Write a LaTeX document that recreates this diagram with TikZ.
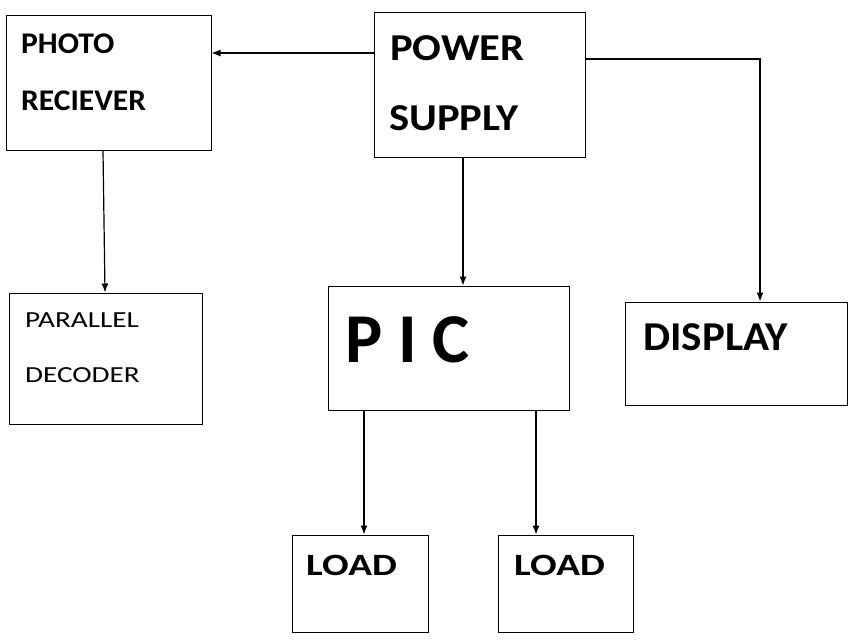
\documentclass[tikz,border=0pt]{standalone}
\usepackage{fontspec}
\setmainfont{Carlito}
\newfontfamily\stretchA[FakeStretch=1.05]{Carlito}
\newfontfamily\stretchB[FakeStretch=1.12]{Carlito}
\newfontfamily\stretchC[FakeStretch=1.27]{Carlito}
\usepackage{tikz}
\usetikzlibrary{positioning,arrows.meta}

\begin{document}
\begin{tikzpicture}[x=1pt,y=-1pt,>={Latex[length=9pt,width=7pt]},
	blk/.style={draw,line width=1pt,inner sep=0pt},
	txt/.style={anchor=base west,inner sep=0pt},
	arr/.style={->,line width=1.2pt}]
	
	\useasboundingbox (0,0) rectangle (854,640);
	
	% blocks
	\node[blk,minimum width=205pt,minimum height=135pt] (photo) at (108.5,82.5){};
	\node[blk,minimum width=211pt,minimum height=145pt] (power) at (479.5,84.5){};
	\node[blk,minimum width=193pt,minimum height=131pt] (decoder) at (105.5,358.5){};
	\node[blk,minimum width=241pt,minimum height=124pt] (pic) at (448.5,348){};
	\node[blk,minimum width=222pt,minimum height=103pt] (display) at (736,353.5){};
	\node[blk,minimum width=136pt,minimum height=97pt] (loadA) at (360,583.5){};
	\node[blk,minimum width=135pt,minimum height=97pt] (loadB) at (565.5,583.5){};
	
	% labels
	\node[txt,font=\stretchA\bfseries\fontsize{30}{30}\selectfont] (photoA) at (21,53){PHOTO};
	\node[txt,font=\stretchA\bfseries\fontsize{30}{30}\selectfont] (photoB) at (21,110){RECIEVER};
	\node[txt,font=\stretchB\bfseries\fontsize{38}{38}\selectfont] (powerA) at (390,60){POWER};
	\node[txt,font=\stretchB\bfseries\fontsize{38}{38}\selectfont] (powerB) at (389,130){SUPPLY};
	\node[txt,font=\stretchC\fontsize{23}{23}\selectfont] (decoderA) at (25,327){PARALLEL};
	\node[txt,font=\stretchC\fontsize{23}{23}\selectfont] (decoderB) at (25,382){DECODER};
	\node[txt,font=\bfseries\fontsize{70}{70}\selectfont] (picA) at (345,362){P I C};
	\node[txt,font=\stretchA\bfseries\fontsize{41}{41}\selectfont] (displayA) at (643,350){DISPLAY};
	\node[txt,font=\stretchC\bfseries\fontsize{31}{31}\selectfont] (loadAa) at (306,575){LOAD};
	\node[txt,font=\stretchC\bfseries\fontsize{31}{31}\selectfont] (loadBa) at (514,575){LOAD};
	
	% connections
	\coordinate (pw) at ([yshift=31.5pt]power.west);
	\draw[arr] (pw) -- (pw -| photo.east);
	
	\draw[arr] ([xshift=-5.5pt]photo.south) -- ([xshift=-0.5pt]decoder.north);
	
	\coordinate (ps) at ([xshift=-16.5pt]power.south);
	\draw[arr] (ps) -- (ps |- pic.north);
	
	\draw[arr] ([yshift=25.5pt]power.east) -| ([xshift=24pt]display.north);
	
	\coordinate (la) at ([xshift=4pt]loadA.north);
	\draw[arr] (la |- pic.south) -- (la);
	
	\coordinate (lb) at ([xshift=-29.5pt]loadB.north);
	\draw[arr] (lb |- pic.south) -- (lb);
	
\end{tikzpicture}
\end{document}
